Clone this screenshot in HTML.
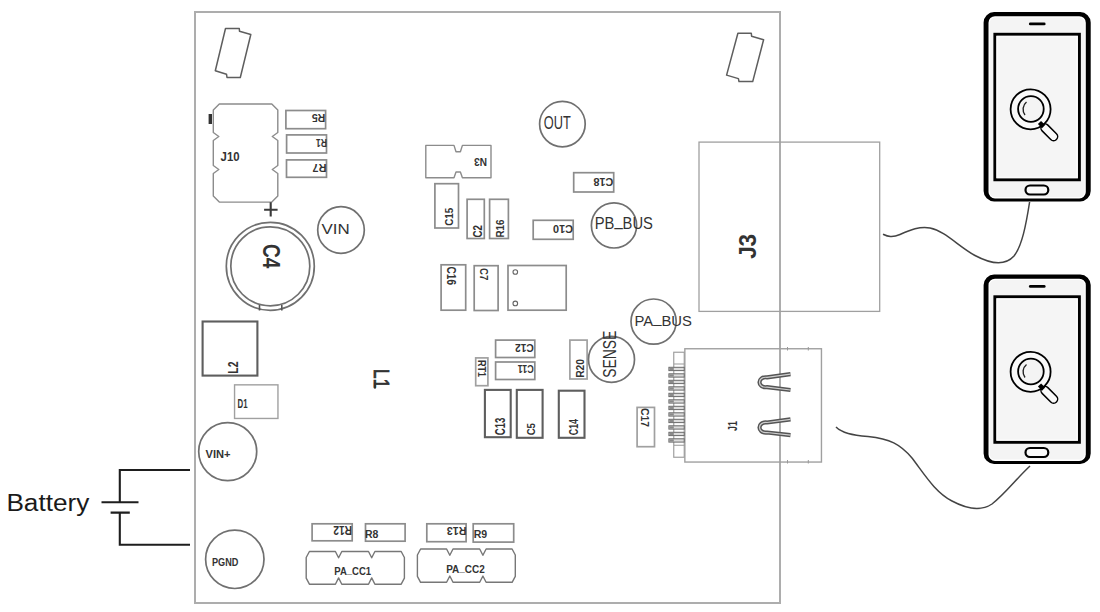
<!DOCTYPE html>
<html><head><meta charset="utf-8"><style>
html,body{margin:0;padding:0;background:#fff;}
body{width:1100px;height:612px;overflow:hidden;font-family:"Liberation Sans",sans-serif;}
svg{display:block;}
</style></head><body>
<svg width="1100" height="612" viewBox="0 0 1100 612">
<rect width="1100" height="612" fill="#fff"/>
<rect x="195.00" y="12.00" width="585.00" height="591.00" fill="none" stroke="#adadad" stroke-width="2"/>
<polygon points="225.50,28.50 239.30,28.50 239.50,31.30 250.80,34.50 240.30,77.50 227.00,77.50 226.50,74.20 215.30,70.70" fill="none" stroke="#5e5e5e" stroke-width="1.5" stroke-linejoin="round"/>
<polygon points="737.90,33.20 751.30,33.20 751.60,36.30 763.60,39.70 752.70,81.60 739.00,81.60 738.40,78.60 726.60,75.10" fill="none" stroke="#5e5e5e" stroke-width="1.5" stroke-linejoin="round"/>
<polygon points="219.30,104.00 271.80,104.00 277.80,110.00 277.80,132.50 272.30,136.50 277.80,140.50 277.80,165.50 272.30,169.50 277.80,173.50 277.80,196.10 271.80,202.10 219.30,202.10 213.30,196.10 213.30,173.50 218.80,169.50 213.30,165.50 213.30,140.50 218.80,136.50 213.30,132.50 213.30,110.00" fill="none" stroke="#8c8c8c" stroke-width="1.4" stroke-linejoin="round"/>
<rect x="208.6" y="114" width="3.4" height="10" fill="#333"/>
<text transform="translate(230.1,156.6)" x="0" y="4.25" font-size="12.35" font-weight="bold" text-anchor="middle" textLength="19.0" lengthAdjust="spacingAndGlyphs" fill="#333" font-family="Liberation Sans">J10</text>
<rect x="285.90" y="110.50" width="39.70" height="18.20" fill="none" stroke="#8c8c8c" stroke-width="1.7"/>
<rect x="286.60" y="134.90" width="39.90" height="18.10" fill="none" stroke="#8c8c8c" stroke-width="1.7"/>
<rect x="286.50" y="159.90" width="40.00" height="17.40" fill="none" stroke="#8c8c8c" stroke-width="1.7"/>
<text transform="translate(318.5,118) rotate(180)" x="0" y="4.00" font-size="11.63" font-weight="bold" text-anchor="middle" textLength="13.5" lengthAdjust="spacingAndGlyphs" fill="#333" font-family="Liberation Sans">R5</text>
<text transform="translate(321.5,142.7) rotate(180)" x="0" y="3.80" font-size="11.05" font-weight="bold" text-anchor="middle" textLength="11.0" lengthAdjust="spacingAndGlyphs" fill="#333" font-family="Liberation Sans">R1</text>
<text transform="translate(319.5,167.4) rotate(180)" x="0" y="3.50" font-size="10.17" font-weight="bold" text-anchor="middle" textLength="13.9" lengthAdjust="spacingAndGlyphs" fill="#333" font-family="Liberation Sans">R7</text>
<circle cx="270.3" cy="266.3" r="44" fill="none" stroke="#707070" stroke-width="1.7"/>
<circle cx="270.3" cy="266.3" r="39.5" fill="none" stroke="#707070" stroke-width="1.7"/>
<path d="M259.5,305 L259.5,310.5 M281.8,305 L281.8,310.5" fill="none" stroke="#555" stroke-width="1.6" />
<path d="M264.1,209.7 L277.6,209.7 M270.7,202.3 L270.7,216.4" fill="none" stroke="#3a3a3a" stroke-width="2.1" />
<text transform="translate(270.6,256.2) rotate(90)" x="0" y="7.95" font-size="23.11" font-weight="bold" text-anchor="middle" textLength="24.5" lengthAdjust="spacingAndGlyphs" fill="#333" font-family="Liberation Sans">C4</text>
<circle cx="341" cy="230" r="23.3" fill="none" stroke="#707070" stroke-width="1.7"/>
<text transform="translate(335.6,228.4)" x="0" y="5.15" font-size="14.97" font-weight="normal" text-anchor="middle" textLength="28.2" lengthAdjust="spacingAndGlyphs" fill="#333" font-family="Liberation Sans">VIN</text>
<rect x="202.60" y="321.50" width="54.80" height="54.10" fill="none" stroke="#5e5e5e" stroke-width="2.1"/>
<text transform="translate(233.2,367.5) rotate(-90)" x="0" y="4.90" font-size="14.24" font-weight="bold" text-anchor="middle" textLength="12.3" lengthAdjust="spacingAndGlyphs" fill="#333" font-family="Liberation Sans">L2</text>
<rect x="234.55" y="384.85" width="43.40" height="33.60" fill="none" stroke="#a0a0a0" stroke-width="1.4"/>
<text transform="translate(242.5,403.6)" x="0" y="4.40" font-size="12.79" font-weight="bold" text-anchor="middle" textLength="10.0" lengthAdjust="spacingAndGlyphs" fill="#333" font-family="Liberation Sans">D1</text>
<circle cx="227.7" cy="451.6" r="29.0" fill="none" stroke="#707070" stroke-width="1.7"/>
<text transform="translate(218,453.8)" x="0" y="3.75" font-size="10.90" font-weight="bold" text-anchor="middle" textLength="25.0" lengthAdjust="spacingAndGlyphs" fill="#333" font-family="Liberation Sans">VIN+</text>
<circle cx="234.8" cy="559.3" r="29.2" fill="none" stroke="#707070" stroke-width="1.7"/>
<text transform="translate(225.2,561.9)" x="0" y="3.90" font-size="11.34" font-weight="bold" text-anchor="middle" textLength="26.4" lengthAdjust="spacingAndGlyphs" fill="#333" font-family="Liberation Sans">PGND</text>
<g stroke="#1e1e1e" stroke-width="2.1" fill="none">
<path d="M190,470 L119.8,470 L119.8,502.3 M101.5,502.3 L138.5,502.3 M110.6,512.6 L129.8,512.6 M119.8,512.6 L119.8,544.8 L190,544.8"/>
</g>
<text x="6.4" y="510.5" font-size="23" font-family="Liberation Sans" fill="#1a1a1a" textLength="83" lengthAdjust="spacingAndGlyphs">Battery</text>
<polygon points="425.80,145.40 454.00,145.40 456.00,151.70 460.40,151.70 462.40,145.40 491.00,145.40 491.00,177.80 462.40,177.80 460.40,172.00 456.00,172.00 454.00,177.80 425.80,177.80" fill="none" stroke="#8c8c8c" stroke-width="1.4" stroke-linejoin="round"/>
<text transform="translate(480.5,161.5) rotate(180)" x="0" y="4.00" font-size="11.63" font-weight="bold" text-anchor="middle" textLength="13.0" lengthAdjust="spacingAndGlyphs" fill="#333" font-family="Liberation Sans">N3</text>
<rect x="434.90" y="183.70" width="23.60" height="44.30" fill="none" stroke="#8c8c8c" stroke-width="1.7"/>
<text transform="translate(449.2,216.8) rotate(-90)" x="0" y="3.60" font-size="10.47" font-weight="bold" text-anchor="middle" textLength="18.0" lengthAdjust="spacingAndGlyphs" fill="#333" font-family="Liberation Sans">C15</text>
<rect x="467.10" y="199.30" width="17.20" height="39.20" fill="none" stroke="#8c8c8c" stroke-width="1.7"/>
<text transform="translate(478.2,231.2) rotate(-90)" x="0" y="4.20" font-size="12.21" font-weight="bold" text-anchor="middle" textLength="12.5" lengthAdjust="spacingAndGlyphs" fill="#333" font-family="Liberation Sans">C2</text>
<rect x="489.60" y="199.30" width="18.80" height="39.20" fill="none" stroke="#8c8c8c" stroke-width="1.7"/>
<text transform="translate(500.6,228.5) rotate(-90)" x="0" y="3.80" font-size="11.05" font-weight="bold" text-anchor="middle" textLength="18.0" lengthAdjust="spacingAndGlyphs" fill="#333" font-family="Liberation Sans">R16</text>
<circle cx="562.4" cy="124.1" r="22.8" fill="none" stroke="#707070" stroke-width="1.7"/>
<text transform="translate(557.3,122.8)" x="0" y="6.00" font-size="17.44" font-weight="normal" text-anchor="middle" textLength="27.0" lengthAdjust="spacingAndGlyphs" fill="#333" font-family="Liberation Sans">OUT</text>
<rect x="573.70" y="172.70" width="40.00" height="19.30" fill="none" stroke="#8c8c8c" stroke-width="1.7"/>
<text transform="translate(603.3,182.2) rotate(180)" x="0" y="3.75" font-size="10.90" font-weight="bold" text-anchor="middle" textLength="19.8" lengthAdjust="spacingAndGlyphs" fill="#333" font-family="Liberation Sans">C18</text>
<rect x="533.20" y="220.30" width="40.00" height="19.00" fill="none" stroke="#8c8c8c" stroke-width="1.7"/>
<text transform="translate(563,229.2) rotate(180)" x="0" y="3.80" font-size="11.05" font-weight="bold" text-anchor="middle" textLength="20.0" lengthAdjust="spacingAndGlyphs" fill="#333" font-family="Liberation Sans">C10</text>
<circle cx="614" cy="225.4" r="22.6" fill="none" stroke="#707070" stroke-width="1.7"/>
<text transform="translate(623.8,223.3)" x="0" y="5.50" font-size="15.99" font-weight="normal" text-anchor="middle" textLength="58.2" lengthAdjust="spacingAndGlyphs" fill="#333" font-family="Liberation Sans">PB<tspan dy="-2.72">_</tspan><tspan dy="2.72">BUS</tspan></text>
<rect x="441.10" y="264.80" width="24.60" height="45.40" fill="none" stroke="#8c8c8c" stroke-width="1.7"/>
<text transform="translate(451.1,275.8) rotate(90)" x="0" y="4.10" font-size="11.92" font-weight="bold" text-anchor="middle" textLength="18.4" lengthAdjust="spacingAndGlyphs" fill="#333" font-family="Liberation Sans">C16</text>
<rect x="474.20" y="265.70" width="23.90" height="44.80" fill="none" stroke="#8c8c8c" stroke-width="1.7"/>
<text transform="translate(484.2,274.1) rotate(90)" x="0" y="3.75" font-size="10.90" font-weight="bold" text-anchor="middle" textLength="12.2" lengthAdjust="spacingAndGlyphs" fill="#333" font-family="Liberation Sans">C7</text>
<rect x="508.00" y="265.50" width="58.20" height="44.70" fill="none" stroke="#8c8c8c" stroke-width="1.7"/>
<circle cx="515.3" cy="272" r="2.3" fill="none" stroke="#666" stroke-width="1.1"/>
<circle cx="515.3" cy="303.4" r="2.3" fill="none" stroke="#666" stroke-width="1.1"/>
<circle cx="653.6" cy="321.6" r="22.6" fill="none" stroke="#707070" stroke-width="1.7"/>
<text transform="translate(663.2,320.5)" x="0" y="5.20" font-size="15.12" font-weight="normal" text-anchor="middle" textLength="57.4" lengthAdjust="spacingAndGlyphs" fill="#333" font-family="Liberation Sans">PA<tspan dy="-2.57">_</tspan><tspan dy="2.57">BUS</tspan></text>
<rect x="495.60" y="340.10" width="39.20" height="17.40" fill="none" stroke="#8c8c8c" stroke-width="1.7"/>
<text transform="translate(524.4,347.8) rotate(180)" x="0" y="3.85" font-size="11.19" font-weight="bold" text-anchor="middle" textLength="18.8" lengthAdjust="spacingAndGlyphs" fill="#333" font-family="Liberation Sans">C12</text>
<rect x="495.60" y="362.00" width="39.20" height="17.50" fill="none" stroke="#8c8c8c" stroke-width="1.7"/>
<text transform="translate(525.7,369) rotate(180)" x="0" y="3.65" font-size="10.61" font-weight="bold" text-anchor="middle" textLength="16.0" lengthAdjust="spacingAndGlyphs" fill="#333" font-family="Liberation Sans">C11</text>
<rect x="475.70" y="357.90" width="12.20" height="27.80" fill="none" stroke="#a0a0a0" stroke-width="1.7"/>
<text transform="translate(481.5,368.4) rotate(90)" x="0" y="3.70" font-size="10.76" font-weight="bold" text-anchor="middle" textLength="17.0" lengthAdjust="spacingAndGlyphs" fill="#333" font-family="Liberation Sans">RT1</text>
<rect x="569.90" y="340.10" width="17.20" height="38.90" fill="none" stroke="#a0a0a0" stroke-width="1.7"/>
<text transform="translate(580.3,368.4) rotate(-90)" x="0" y="3.65" font-size="10.61" font-weight="bold" text-anchor="middle" textLength="18.9" lengthAdjust="spacingAndGlyphs" fill="#333" font-family="Liberation Sans">R20</text>
<circle cx="611.5" cy="359.4" r="23" fill="none" stroke="#707070" stroke-width="1.7"/>
<text transform="translate(610.1,354.3) rotate(-90)" x="0" y="6.25" font-size="18.17" font-weight="normal" text-anchor="middle" textLength="47.0" lengthAdjust="spacingAndGlyphs" fill="#333" font-family="Liberation Sans">SENSE</text>
<rect x="484.90" y="389.90" width="25.80" height="47.30" fill="none" stroke="#5e5e5e" stroke-width="2.1"/>
<text transform="translate(500.1,426.4) rotate(-90)" x="0" y="4.75" font-size="13.81" font-weight="bold" text-anchor="middle" textLength="17.7" lengthAdjust="spacingAndGlyphs" fill="#333" font-family="Liberation Sans">C13</text>
<rect x="516.80" y="389.90" width="25.80" height="47.90" fill="none" stroke="#5e5e5e" stroke-width="2.1"/>
<text transform="translate(531.3,429.2) rotate(-90)" x="0" y="3.65" font-size="10.61" font-weight="bold" text-anchor="middle" textLength="12.2" lengthAdjust="spacingAndGlyphs" fill="#333" font-family="Liberation Sans">C5</text>
<rect x="558.80" y="390.70" width="25.70" height="47.10" fill="none" stroke="#5e5e5e" stroke-width="2.1"/>
<text transform="translate(573.4,427.1) rotate(-90)" x="0" y="4.15" font-size="12.06" font-weight="bold" text-anchor="middle" textLength="16.3" lengthAdjust="spacingAndGlyphs" fill="#333" font-family="Liberation Sans">C14</text>
<rect x="637.10" y="407.40" width="17.40" height="39.30" fill="none" stroke="#a0a0a0" stroke-width="1.7"/>
<text transform="translate(645,417.5) rotate(90)" x="0" y="3.75" font-size="10.90" font-weight="bold" text-anchor="middle" textLength="19.0" lengthAdjust="spacingAndGlyphs" fill="#333" font-family="Liberation Sans">C17</text>
<text transform="translate(381.6,378.7) rotate(90)" x="0" y="7.40" font-size="21.51" font-weight="normal" text-anchor="middle" textLength="19.2" lengthAdjust="spacingAndGlyphs" fill="#333" font-family="Liberation Sans" stroke="#333" stroke-width="0.8">L1</text>
<path d="M374.9,382.6 L374.9,388.6" fill="none" stroke="#333" stroke-width="2" />
<rect x="684.85" y="348.75" width="136.60" height="113.30" fill="none" stroke="#a0a0a0" stroke-width="1.4"/>
<rect x="673.75" y="352.25" width="10.50" height="105.00" fill="none" stroke="#a0a0a0" stroke-width="1.2"/>
<path d="M674,364 L684.5,364 M674,445.2 L684.5,445.2" fill="none" stroke="#999" stroke-width="1.1" />
<rect x="668.9" y="367.3" width="15.3" height="3.3" fill="#dcdcdc" stroke="#6a6a6a" stroke-width="1"/>
<rect x="669.4" y="367.8" width="4.4" height="2.3" fill="#8a8a8a"/>
<rect x="668.9" y="373.8" width="15.3" height="3.3" fill="#dcdcdc" stroke="#6a6a6a" stroke-width="1"/>
<rect x="669.4" y="374.3" width="4.4" height="2.3" fill="#8a8a8a"/>
<rect x="668.9" y="380.3" width="15.3" height="3.3" fill="#dcdcdc" stroke="#6a6a6a" stroke-width="1"/>
<rect x="669.4" y="380.8" width="4.4" height="2.3" fill="#8a8a8a"/>
<rect x="668.9" y="386.8" width="15.3" height="3.3" fill="#dcdcdc" stroke="#6a6a6a" stroke-width="1"/>
<rect x="669.4" y="387.3" width="4.4" height="2.3" fill="#8a8a8a"/>
<rect x="668.9" y="393.3" width="15.3" height="3.3" fill="#dcdcdc" stroke="#6a6a6a" stroke-width="1"/>
<rect x="669.4" y="393.8" width="4.4" height="2.3" fill="#8a8a8a"/>
<rect x="668.9" y="399.8" width="15.3" height="3.3" fill="#dcdcdc" stroke="#6a6a6a" stroke-width="1"/>
<rect x="669.4" y="400.3" width="4.4" height="2.3" fill="#8a8a8a"/>
<rect x="668.9" y="406.3" width="15.3" height="3.3" fill="#dcdcdc" stroke="#6a6a6a" stroke-width="1"/>
<rect x="669.4" y="406.8" width="4.4" height="2.3" fill="#8a8a8a"/>
<rect x="668.9" y="412.8" width="15.3" height="3.3" fill="#dcdcdc" stroke="#6a6a6a" stroke-width="1"/>
<rect x="669.4" y="413.3" width="4.4" height="2.3" fill="#8a8a8a"/>
<rect x="668.9" y="419.3" width="15.3" height="3.3" fill="#dcdcdc" stroke="#6a6a6a" stroke-width="1"/>
<rect x="669.4" y="419.8" width="4.4" height="2.3" fill="#8a8a8a"/>
<rect x="668.9" y="425.8" width="15.3" height="3.3" fill="#dcdcdc" stroke="#6a6a6a" stroke-width="1"/>
<rect x="669.4" y="426.3" width="4.4" height="2.3" fill="#8a8a8a"/>
<rect x="668.9" y="432.3" width="15.3" height="3.3" fill="#dcdcdc" stroke="#6a6a6a" stroke-width="1"/>
<rect x="669.4" y="432.8" width="4.4" height="2.3" fill="#8a8a8a"/>
<rect x="668.9" y="438.8" width="15.3" height="3.3" fill="#dcdcdc" stroke="#6a6a6a" stroke-width="1"/>
<rect x="669.4" y="439.3" width="4.4" height="2.3" fill="#8a8a8a"/>
<path d="M787.5,347 L787.5,350.5 M808.3,347 L808.3,350.5 M787.5,460 L787.5,463.5 M808.3,460 L808.3,463.5" fill="none" stroke="#999" stroke-width="1" />
<path d="M790.5,374.2 L767,377.3 C757,376.3 757,388.2 767,387.2 L790.5,390" fill="none" stroke="#555" stroke-width="4.2" stroke-linecap="butt" stroke-linejoin="round"/>
<path d="M790.5,374.2 L767,377.3 C757,376.3 757,388.2 767,387.2 L790.5,390" fill="none" stroke="#cfcfcf" stroke-width="1.2" stroke-linecap="butt"/>
<path d="M790.5,419.3 L767,422.5 C757,421.5 757,433.5 767,432.5 L790.5,435.2" fill="none" stroke="#555" stroke-width="4.2" stroke-linecap="butt" stroke-linejoin="round"/>
<path d="M790.5,419.3 L767,422.5 C757,421.5 757,433.5 767,432.5 L790.5,435.2" fill="none" stroke="#cfcfcf" stroke-width="1.2" stroke-linecap="butt"/>
<text transform="translate(732.6,426) rotate(-90)" x="0" y="4.30" font-size="12.50" font-weight="bold" text-anchor="middle" textLength="9.8" lengthAdjust="spacingAndGlyphs" fill="#333" font-family="Liberation Sans">J1</text>
<rect x="699.00" y="142.10" width="180.70" height="169.30" fill="none" stroke="#a0a0a0" stroke-width="1.3"/>
<text transform="translate(747.7,246.4) rotate(-90)" x="0" y="8.00" font-size="23.26" font-weight="bold" text-anchor="middle" textLength="24.9" lengthAdjust="spacingAndGlyphs" fill="#333" font-family="Liberation Sans">J3</text>
<rect x="312.10" y="523.80" width="40.10" height="17.00" fill="none" stroke="#8c8c8c" stroke-width="1.7"/>
<text transform="translate(342.7,530.6) rotate(180)" x="0" y="4.10" font-size="11.92" font-weight="bold" text-anchor="middle" textLength="18.8" lengthAdjust="spacingAndGlyphs" fill="#333" font-family="Liberation Sans">R12</text>
<rect x="365.50" y="523.80" width="39.60" height="17.40" fill="none" stroke="#8c8c8c" stroke-width="1.7"/>
<text transform="translate(371.7,533.7)" x="0" y="4.00" font-size="11.63" font-weight="bold" text-anchor="middle" textLength="13.4" lengthAdjust="spacingAndGlyphs" fill="#333" font-family="Liberation Sans">R8</text>
<rect x="426.80" y="523.80" width="39.30" height="17.90" fill="none" stroke="#8c8c8c" stroke-width="1.7"/>
<text transform="translate(456.6,531.2) rotate(180)" x="0" y="3.95" font-size="11.48" font-weight="bold" text-anchor="middle" textLength="19.6" lengthAdjust="spacingAndGlyphs" fill="#333" font-family="Liberation Sans">R13</text>
<rect x="473.20" y="523.80" width="40.50" height="18.30" fill="none" stroke="#8c8c8c" stroke-width="1.7"/>
<text transform="translate(480.4,534)" x="0" y="3.70" font-size="10.76" font-weight="bold" text-anchor="middle" textLength="13.5" lengthAdjust="spacingAndGlyphs" fill="#333" font-family="Liberation Sans">R9</text>
<polygon points="309.40,551.50 335.40,551.50 338.60,557.80 341.80,551.50 368.50,551.50 371.70,557.80 374.90,551.50 401.20,551.50 404.40,557.50 404.40,578.20 401.20,584.20 374.90,584.20 371.70,577.90 368.50,584.20 341.80,584.20 338.60,577.90 335.40,584.20 309.40,584.20 306.20,578.20 306.20,557.50" fill="none" stroke="#777" stroke-width="1.4" stroke-linejoin="round"/>
<text transform="translate(352.7,571)" x="0" y="4.00" font-size="11.63" font-weight="bold" text-anchor="middle" textLength="36.8" lengthAdjust="spacingAndGlyphs" fill="#333" font-family="Liberation Sans">PA<tspan dy="-1.98">_</tspan><tspan dy="1.98">CC1</tspan></text>
<polygon points="420.60,549.00 446.60,549.00 449.80,555.30 453.00,549.00 479.70,549.00 482.90,555.30 486.10,549.00 512.10,549.00 515.30,555.00 515.30,576.30 512.10,582.30 486.10,582.30 482.90,576.00 479.70,582.30 453.00,582.30 449.80,576.00 446.60,582.30 420.60,582.30 417.40,576.30 417.40,555.00" fill="none" stroke="#777" stroke-width="1.4" stroke-linejoin="round"/>
<text transform="translate(465.5,569.2)" x="0" y="4.00" font-size="11.63" font-weight="bold" text-anchor="middle" textLength="38.6" lengthAdjust="spacingAndGlyphs" fill="#333" font-family="Liberation Sans">PA<tspan dy="-1.98">_</tspan><tspan dy="1.98">CC2</tspan></text>
<path d="M883,234.2 C888,236.5 892,238 900,234.5 C910,230 920,226 930,228 C945,231 958,246 975,255.5 C990,263.5 1005,266 1014,256 C1022,246 1026,225 1029.6,202" fill="none" stroke="#444" stroke-width="1.5" />
<path d="M836,427 C842,433 852,435 868,436.5 C890,439 900,444 912,458 C925,475 935,492 952,501 C965,508 980,512 992,504 C1005,494 1016,479 1030,466" fill="none" stroke="#444" stroke-width="1.5" />
<g transform="translate(0,0)">
<path d="M995.0,16.2 L1079.3,16.2 A6.5,6.5 0 0 1 1085.8,22.7 L1085.8,191.8 A6.5,6.5 0 0 1 1079.3,198.3 L995.0,198.3 A6.5,6.5 0 0 1 988.5,191.8 L988.5,22.7 A6.5,6.5 0 0 1 995.0,16.2 Z" fill="#f4f4f4" stroke="#fff" stroke-width="2.4"/>
<path d="M994.1,12.1 L1080.2,12.1 A10.5,10.5 0 0 1 1090.7,22.6 L1090.7,190.9 A10.5,10.5 0 0 1 1080.2,201.4 L994.1,201.4 A10.5,10.5 0 0 1 983.6,190.9 L983.6,22.6 A10.5,10.5 0 0 1 994.1,12.1 Z M995.0,16.2 L1079.3,16.2 A6.5,6.5 0 0 1 1085.8,22.7 L1085.8,191.9 A6.5,6.5 0 0 1 1079.3,198.4 L995.0,198.4 A6.5,6.5 0 0 1 988.5,191.9 L988.5,22.7 A6.5,6.5 0 0 1 995.0,16.2 Z" fill="#000" fill-rule="evenodd"/>
<line x1="1030.3" y1="23.9" x2="1044.2" y2="23.9" stroke="#000" stroke-width="2.8" stroke-linecap="round"/>
<rect x="994.85" y="34.25" width="84.55" height="145.55" fill="#f5f5f5" stroke="#000" stroke-width="2.9"/>
<rect x="997.2" y="36.6" width="79.8" height="140.8" fill="none" stroke="#fbfbfb" stroke-width="1.4"/>
<rect x="1025.5" y="185.5" width="22.8" height="9" rx="4.5" fill="#fafafa" stroke="#000" stroke-width="2.2"/>
<path d="M1045,128 L1053.6,136.6" stroke="#000" stroke-width="9.6" stroke-linecap="round"/>
<path d="M1045,128 L1053.6,136.6" stroke="#fafafa" stroke-width="6.6" stroke-linecap="round"/>
<circle cx="1030.6" cy="109.3" r="20" fill="#fafafa" stroke="#000" stroke-width="1.8"/>
<circle cx="1030.9" cy="109" r="12.8" fill="#f4f4f4" stroke="#000" stroke-width="1.8"/>
<path d="M1026.5,102 A9.5,9.5 0 0 0 1025,115" fill="none" stroke="#222" stroke-width="1.4"/>
<path d="M1039.5,122.5 L1043.6,126.6" stroke="#000" stroke-width="4.5"/>
</g>
<g transform="translate(0,262.5)">
<path d="M995.0,16.2 L1079.3,16.2 A6.5,6.5 0 0 1 1085.8,22.7 L1085.8,191.8 A6.5,6.5 0 0 1 1079.3,198.3 L995.0,198.3 A6.5,6.5 0 0 1 988.5,191.8 L988.5,22.7 A6.5,6.5 0 0 1 995.0,16.2 Z" fill="#f4f4f4" stroke="#fff" stroke-width="2.4"/>
<path d="M994.1,12.1 L1080.2,12.1 A10.5,10.5 0 0 1 1090.7,22.6 L1090.7,190.9 A10.5,10.5 0 0 1 1080.2,201.4 L994.1,201.4 A10.5,10.5 0 0 1 983.6,190.9 L983.6,22.6 A10.5,10.5 0 0 1 994.1,12.1 Z M995.0,16.2 L1079.3,16.2 A6.5,6.5 0 0 1 1085.8,22.7 L1085.8,191.9 A6.5,6.5 0 0 1 1079.3,198.4 L995.0,198.4 A6.5,6.5 0 0 1 988.5,191.9 L988.5,22.7 A6.5,6.5 0 0 1 995.0,16.2 Z" fill="#000" fill-rule="evenodd"/>
<line x1="1030.3" y1="23.9" x2="1044.2" y2="23.9" stroke="#000" stroke-width="2.8" stroke-linecap="round"/>
<rect x="994.85" y="34.25" width="84.55" height="145.55" fill="#f5f5f5" stroke="#000" stroke-width="2.9"/>
<rect x="997.2" y="36.6" width="79.8" height="140.8" fill="none" stroke="#fbfbfb" stroke-width="1.4"/>
<rect x="1025.5" y="185.5" width="22.8" height="9" rx="4.5" fill="#fafafa" stroke="#000" stroke-width="2.2"/>
<path d="M1045,128 L1053.6,136.6" stroke="#000" stroke-width="9.6" stroke-linecap="round"/>
<path d="M1045,128 L1053.6,136.6" stroke="#fafafa" stroke-width="6.6" stroke-linecap="round"/>
<circle cx="1030.6" cy="109.3" r="20" fill="#fafafa" stroke="#000" stroke-width="1.8"/>
<circle cx="1030.9" cy="109" r="12.8" fill="#f4f4f4" stroke="#000" stroke-width="1.8"/>
<path d="M1026.5,102 A9.5,9.5 0 0 0 1025,115" fill="none" stroke="#222" stroke-width="1.4"/>
<path d="M1039.5,122.5 L1043.6,126.6" stroke="#000" stroke-width="4.5"/>
</g>
</svg>
</body></html>
